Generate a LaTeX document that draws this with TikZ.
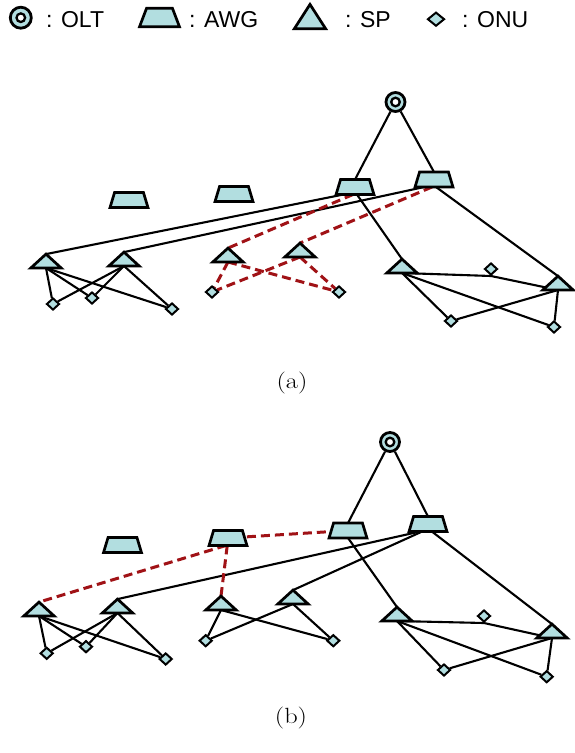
\documentclass[tikz,border=0pt]{standalone}
\usepackage{fontspec}
\newfontfamily\legendfont{Liberation Sans}
\usetikzlibrary{shapes.geometric,backgrounds,calc}
\definecolor{devfill}{RGB}{178,222,224}
\definecolor{linkred}{RGB}{160,18,22}
\tikzset{
  olt/.style={circle,draw,line width=2.8pt,fill=devfill,minimum size=19pt,inner sep=0pt,
    path picture={\draw[line width=2.3pt,fill=white] (path picture bounding box.center) circle (4.3pt);}},
  % AWG and SP frames: the outlines are drawn from their anchors
  awgbox/.style={rectangle,minimum width=37.5pt,minimum height=14.5pt,inner sep=0pt},
  spbox/.style={rectangle,minimum width=30pt,minimum height=13.5pt,inner sep=0pt,anchor=south},
  devline/.style={draw=black,line width=2.7pt,fill=devfill},
  onu/.style={diamond,draw,line width=2pt,fill=devfill,minimum width=13pt,
    minimum height=12pt,inner sep=0pt},
  fib/.style={line width=2.1pt,black},
  lnk/.style={line width=3pt,linkred,dash pattern=on 9pt off 5pt},
  legtext/.style={anchor=base west,inner sep=0pt,font=\legendfont\fontsize{23}{27}\selectfont},
  capt/.style={inner sep=0pt},
}
\newcommand{\awgshape}[2]{\draw[devline] (#1.south west) -- (#1.south east)
  -- ([xshift=-#2]#1.north east) -- ([xshift=#2]#1.north west) -- cycle;}
\newcommand{\spshape}[1]{\draw[devline] (#1.south west) -- (#1.north) -- (#1.south east) -- cycle;}
\newcommand{\awgfoot}[2]{($(#1.south west)!#2!(#1.south east)$)}
\newcommand{\captext}[1]{\fontsize{22}{26}\selectfont\scalebox{1.2}[1]{#1}}
\begin{document}
\begin{tikzpicture}[x=1pt,y=-1pt]
\useasboundingbox (0,0) rectangle (574,753);

% ---------- legend ----------
\node[olt,minimum size=21pt] (kolt) at (20.8,17.7) {};
\node[legtext] (tolt) at (46,27.5) {: OLT};
\node[awgbox,minimum width=39.5pt,minimum height=18pt] (kawg) at (159.5,17.5) {};
\node[legtext] (tawg) at (189,27.5) {: AWG};
\node[spbox,minimum width=31pt,minimum height=24pt] (ksp) at (310,28.8) {};
\node[legtext] (tsp) at (345,27.5) {: SP};
\node[onu,minimum width=17pt,minimum height=14pt] (konu) at (436,19.2) {};
\node[legtext] (tonu) at (462,27.5) {: ONU};
\awgshape{kawg}{7pt}
\spshape{ksp}

% ---------- network (a) ----------
\node[olt] (oltA) at (395.5,102) {};
\node[awgbox] (awA1) at (355,187) {};
\node[awgbox] (awA2) at (434,179.5) {};
\node[awgbox] (awA3) at (129,200) {};
\node[awgbox] (awA4) at (234,194) {};
\node[spbox] (spA1) at (46,268) {};
\node[spbox] (spA2) at (124,266) {};
\node[spbox] (spA3) at (228,262) {};
\node[spbox] (spA4) at (300,257) {};
\node[spbox] (spA5) at (402,273) {};
\node[spbox] (spA6) at (558,290) {};
\node[onu] (onA1) at (53,304) {};
\node[onu] (onA2) at (92,298) {};
\node[onu] (onA3) at (172,309) {};
\node[onu] (onA4) at (212,292) {};
\node[onu] (onA5) at (339,292) {};
\node[onu] (onA6) at (491,269) {};
\node[onu] (onA7) at (451,321) {};
\node[onu] (onA8) at (554,327) {};
\node[capt] (capA) at (292,383.5) {\captext{(a)}};
\foreach \n in {awA1,awA2,awA3,awA4} {\awgshape{\n}{4.5pt}}
\foreach \n in {spA1,spA2,spA3,spA4,spA5,spA6} {\spshape{\n}}

% ---------- network (b) ----------
\node[olt] (oltB) at (390,442) {};
\node[awgbox] (awB1) at (348,530.5) {};
\node[awgbox] (awB2) at (428,524) {};
\node[awgbox] (awB3) at (122.5,545) {};
\node[awgbox] (awB4) at (228,538) {};
\node[spbox] (spB1) at (39,616) {};
\node[spbox] (spB2) at (117.5,613) {};
\node[spbox] (spB3) at (221,610) {};
\node[spbox] (spB4) at (293,604) {};
\node[spbox] (spB5) at (397,621) {};
\node[spbox] (spB6) at (552,638) {};
\node[onu] (onB1) at (46.7,653.3) {};
\node[onu] (onB2) at (86,646.7) {};
\node[onu] (onB3) at (165.7,659) {};
\node[onu] (onB4) at (205.7,640.7) {};
\node[onu] (onB5) at (333.3,640.7) {};
\node[onu] (onB6) at (484,616) {};
\node[onu] (onB7) at (444,670) {};
\node[onu] (onB8) at (546.7,676.7) {};
\node[capt] (capB) at (291,718) {\captext{(b)}};
\foreach \n in {awB1,awB2,awB3,awB4} {\awgshape{\n}{4.5pt}}
\foreach \n in {spB1,spB2,spB3,spB4,spB5,spB6} {\spshape{\n}}

\begin{scope}[on background layer]
\fill[white] (0,0) rectangle (574,753);

% fibres of (a)
\draw[fib] (oltA) -- (awA1.north);
\draw[fib] (oltA) -- (awA2.north);
\draw[fib] (spA1.north) -- \awgfoot{awA1}{.2};
\draw[fib] (spA2.north) -- \awgfoot{awA2}{.25};
\draw[fib] \awgfoot{awA1}{.55} -- (spA5.north);
\draw[fib] \awgfoot{awA2}{.55} -- (spA6.north);
\foreach \s in {spA1,spA2}
  \foreach \o in {onA1,onA2,onA3}
    \draw[fib] (\s.south) -- (\o);
\draw[fib] (spA5.south) -- (onA6.south) -- (spA6.south);
\foreach \s in {spA5,spA6}
  \foreach \o in {onA7,onA8}
    \draw[fib] (\s.south) -- (\o);
\draw[lnk] \awgfoot{awA1}{.45} -- (spA3.north);
\draw[lnk] \awgfoot{awA2}{.45} -- (spA4.north);
\foreach \s in {spA3,spA4}
  \foreach \o in {onA4,onA5}
    \draw[lnk] (\s.south) -- (\o);

% fibres of (b)
\draw[fib] (oltB) -- (awB1.north);
\draw[fib] (oltB) -- (awB2.north);
\draw[fib] \awgfoot{awB1}{.5} -- (spB5.north);
\draw[fib] \awgfoot{awB2}{.3} -- (spB2.north);
\draw[fib] \awgfoot{awB2}{.35} -- (spB4.north);
\draw[fib] \awgfoot{awB2}{.6} -- (spB6.north);
\foreach \s in {spB1,spB2}
  \foreach \o in {onB1,onB2,onB3}
    \draw[fib] (\s.south) -- (\o);
\foreach \s in {spB3,spB4}
  \foreach \o in {onB4,onB5}
    \draw[fib] (\s.south) -- (\o);
\draw[fib] (spB5.south) -- (onB6.south) -- (spB6.south);
\foreach \s in {spB5,spB6}
  \foreach \o in {onB7,onB8}
    \draw[fib] (\s.south) -- (\o);
\draw[lnk] (awB4) -- (awB1);
\draw[lnk] \awgfoot{awB4}{.45} -- (spB1.north);
\draw[lnk] \awgfoot{awB4}{.48} -- (spB3.north);
\end{scope}
\end{tikzpicture}
\end{document}
